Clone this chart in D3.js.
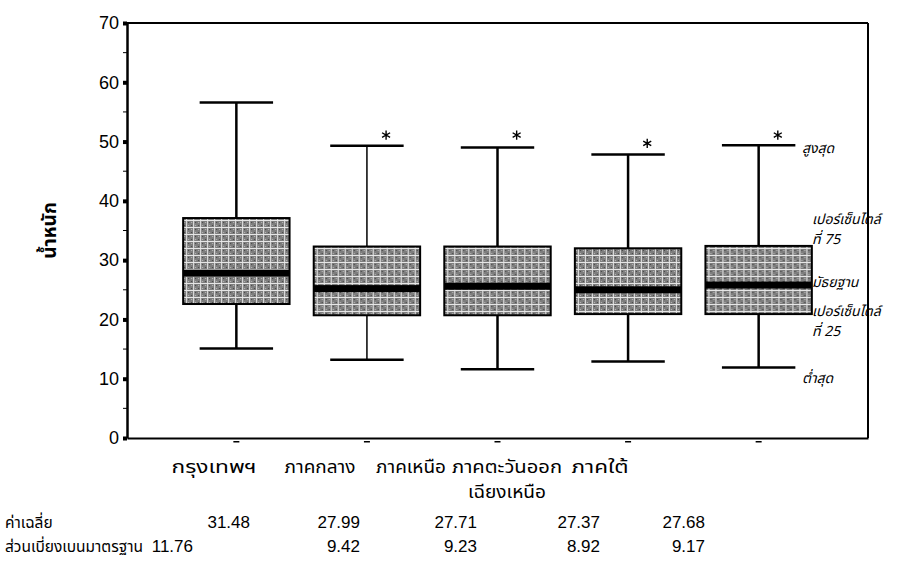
<!DOCTYPE html>
<html>
<head>
<meta charset="utf-8">
<script src="https://cdn.jsdelivr.net/npm/d3@7"></script>
<style>
  body { margin: 0; background: #fff; }
  text { font-family: "Liberation Sans", Arial, sans-serif; }
  .thai { font-family: "Noto Sans Thai", "Noto Sans Thai UI", "Loma", "Garuda", "Tlwg Typo", "Noto Sans", sans-serif; }
</style>
</head>
<body>
<div id="main"></div>
<script>
"use strict";

// values
const categories = ["กรุงเทพฯ", "ภาคกลาง", "ภาคเหนือ", "ภาคตะวันออกเฉียงเหนือ", "ภาคใต้"];
const categoryLines = [["กรุงเทพฯ"], ["ภาคกลาง"], ["ภาคเหนือ"], ["ภาคตะวันออก", "เฉียงเหนือ"], ["ภาคใต้"]];
const minVals = [15.1, 13.2, 11.6, 12.9, 11.9];
const q1Vals = [22.6, 20.7, 20.7, 20.9, 20.9];
const medianVals = [27.8, 25.2, 25.6, 25.0, 25.8];
const q3Vals = [37.1, 32.3, 32.3, 32.0, 32.4];
const maxVals = [56.6, 49.3, 49.0, 47.8, 49.4];
const outlierVals = [null, 51.1, 51.1, 49.7, 51.1];
const meanVals = ["31.48", "27.99", "27.71", "27.37", "27.68"];
const sdVals = ["11.76", "9.42", "9.23", "8.92", "9.17"];
const yTicks = [0, 10, 20, 30, 40, 50, 60, 70];
const yMinorTicks = [5, 15, 25, 35, 45, 55, 65];
const yTitle = "น้ำหนัก";
const rowLabels = ["ค่าเฉลี่ย", "ส่วนเบี่ยงเบนมาตรฐาน"];
const notes = [
    { lines: ["สูงสุด"], value: 48.9 },
    { lines: ["เปอร์เซ็นไตล์", "ที่ 75"], value: 36.9 },
    { lines: ["มัธยฐาน"], value: 26.3 },
    { lines: ["เปอร์เซ็นไตล์", "ที่ 25"], value: 21.4 },
    { lines: ["ต่ำสุด"], value: 10.1 }
];

function main() {
    const width = 908, height = 588;
    const plot = { left: 127, right: 868, top: 23, bottom: 438 };

    const svg = d3.select("#main").append("svg")
        .attr("width", width)
        .attr("height", height);

    svg.append("rect").attr("width", width).attr("height", height).attr("fill", "#fff");

    // dotted grey fill of the boxes
    const defs = svg.append("defs");
    const pat = defs.append("pattern")
        .attr("id", "dots")
        .attr("width", 7).attr("height", 7)
        .attr("patternUnits", "userSpaceOnUse");
    pat.append("rect").attr("width", 7).attr("height", 7).attr("fill", "#7e7e7e");
    pat.append("rect").attr("x", 0).attr("y", 3).attr("width", 7).attr("height", 1).attr("fill", "#e6e6e6");
    pat.append("rect").attr("x", 3).attr("y", 0).attr("width", 1).attr("height", 7).attr("fill", "#e6e6e6");
    pat.append("rect").attr("x", 1).attr("y", 1).attr("width", 1).attr("height", 1).attr("fill", "#444");
    pat.append("rect").attr("x", 5).attr("y", 5).attr("width", 1).attr("height", 1).attr("fill", "#444");
    pat.append("rect").attr("x", 5).attr("y", 1).attr("width", 1).attr("height", 1).attr("fill", "#bbb");
    pat.append("rect").attr("x", 1).attr("y", 5).attr("width", 1).attr("height", 1).attr("fill", "#bbb");

    const y = d3.scaleLinear().domain([0, 70]).range([plot.bottom, plot.top]);
    const x = d3.scaleBand()
        .domain(categories)
        .range([plot.left, plot.right])
        .paddingInner(0.185)
        .paddingOuter(0.43);
    const bw = x.bandwidth();

    // frame
    svg.append("line").attr("x1", plot.left).attr("x2", plot.right).attr("y1", plot.top).attr("y2", plot.top)
        .attr("stroke", "#000").attr("stroke-width", 2);
    svg.append("line").attr("x1", plot.right).attr("x2", plot.right).attr("y1", plot.top).attr("y2", plot.bottom)
        .attr("stroke", "#000").attr("stroke-width", 2);

    // y axis
    const yAxis = d3.axisLeft(y).tickValues(yTicks).tickSize(0).tickPadding(8);
    const gy = svg.append("g").attr("transform", `translate(${plot.left},0)`).call(yAxis);
    gy.select(".domain").attr("stroke-width", 2.5);
    gy.selectAll(".tick text").attr("font-size", 18).attr("fill", "#000");
    gy.selectAll(".tick").append("rect")
        .attr("x", -4).attr("y", -2).attr("width", 4).attr("height", 4).attr("fill", "#000");

    svg.append("g").selectAll("line").data(yMinorTicks).join("line")
        .attr("x1", plot.left - 4).attr("x2", plot.left)
        .attr("y1", d => y(d)).attr("y2", d => y(d))
        .attr("stroke", "#000").attr("stroke-width", 1);

    svg.append("text")
        .attr("class", "thai")
        .attr("transform", `translate(50,${(y(30) + y(40)) / 2}) rotate(-90)`)
        .attr("text-anchor", "middle")
        .attr("dominant-baseline", "central")
        .attr("font-size", 19)
        .attr("font-weight", "bold")
        .text(yTitle);

    // x axis
    const xAxis = d3.axisBottom(x).tickSize(0).tickFormat("");
    const gx = svg.append("g").attr("transform", `translate(0,${plot.bottom})`).call(xAxis);
    gx.select(".domain").attr("stroke-width", 2);
    gx.selectAll(".tick").append("rect")
        .attr("x", -3).attr("y", 3).attr("width", 6).attr("height", 1.5).attr("fill", "#000");

    // box plots
    const boxes = svg.append("g").selectAll("g").data(categories).join("g")
        .attr("transform", d => `translate(${x(d)},0)`);

    const capW = bw * 0.69;
    boxes.append("line")
        .attr("x1", bw / 2).attr("x2", bw / 2)
        .attr("y1", (d, i) => y(maxVals[i])).attr("y2", (d, i) => y(minVals[i]))
        .attr("stroke", "#000").attr("stroke-width", (d, i) => i === 1 ? 1.5 : 2.5);
    boxes.append("line")
        .attr("x1", bw / 2 - capW / 2).attr("x2", bw / 2 + capW / 2)
        .attr("y1", (d, i) => y(maxVals[i])).attr("y2", (d, i) => y(maxVals[i]))
        .attr("stroke", "#000").attr("stroke-width", 2.5);
    boxes.append("line")
        .attr("x1", bw / 2 - capW / 2).attr("x2", bw / 2 + capW / 2)
        .attr("y1", (d, i) => y(minVals[i])).attr("y2", (d, i) => y(minVals[i]))
        .attr("stroke", "#000").attr("stroke-width", 2.5);
    boxes.append("rect")
        .attr("x", 0).attr("width", bw)
        .attr("y", (d, i) => y(q3Vals[i]))
        .attr("height", (d, i) => y(q1Vals[i]) - y(q3Vals[i]))
        .attr("fill", "url(#dots)")
        .attr("stroke", "#000").attr("stroke-width", 2);
    boxes.append("rect")
        .attr("x", 0).attr("width", bw)
        .attr("y", (d, i) => y(medianVals[i]) - 3.5)
        .attr("height", 7)
        .attr("fill", "#000");

    // extreme values
    const star = d3.symbol(d3.symbolAsterisk, 60);
    boxes.filter((d, i) => outlierVals[i] !== null).append("path")
        .attr("d", star)
        .attr("transform", d => {
            const i = categories.indexOf(d);
            return `translate(${bw / 2 + bw * 0.18},${y(outlierVals[i])})`;
        })
        .attr("fill", "none").attr("stroke", "#000").attr("stroke-width", 1.4);

    // handwritten notes at the right
    const noteLines = [];
    notes.forEach((n, i) => n.lines.forEach((t, j) => noteLines.push({ t, i, j, value: n.value })));
    svg.append("g").selectAll("text").data(noteLines).join("text")
        .attr("class", "thai")
        .attr("font-size", 14)
        .attr("font-style", "italic")
        .attr("x", d => (d.i === 0 || d.i === 4) ? 802 : 812)
        .attr("y", d => y(d.value) + 5 + d.j * 20)
        .text(d => d.t);

    // category labels under the axis
    const labelX = [214, 320, 411, 507, 600];
    const labelW = [[85], [71], [70], [110, 78], [57]];
    const catLines = [];
    categoryLines.forEach((ls, i) => ls.forEach((t, j) => catLines.push({ t, i, j })));
    svg.append("g").selectAll("text").data(catLines).join("text")
        .attr("class", "thai")
        .attr("font-size", 18)
        .attr("text-anchor", "middle")
        .attr("x", d => labelX[d.i])
        .attr("y", d => 473 + d.j * 25)
        .attr("textLength", d => labelW[d.i][d.j])
        .attr("lengthAdjust", "spacingAndGlyphs")
        .text(d => d.t);

    // mean / sd table
    const rowY = [528, 552];
    svg.append("g").selectAll("text").data(rowLabels).join("text")
        .attr("class", "thai")
        .attr("font-size", 15.5)
        .attr("x", 5)
        .attr("y", (d, i) => rowY[i])
        .text(d => d);

    const valueRight = [[250, 360, 477, 600, 705], [193, 360, 477, 600, 705]];
    [meanVals, sdVals].forEach((row, r) => {
        svg.append("g").selectAll("text").data(row).join("text")
            .attr("font-size", 17)
            .attr("text-anchor", "end")
            .attr("x", (d, i) => valueRight[r][i])
            .attr("y", rowY[r])
            .text(d => d);
    });
}

main();
</script>
</body>
</html>
